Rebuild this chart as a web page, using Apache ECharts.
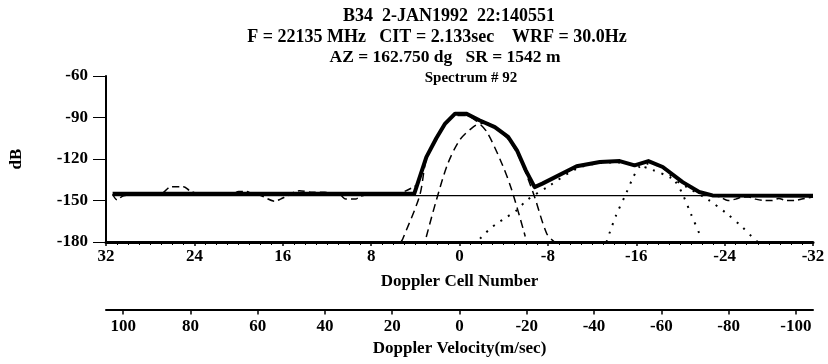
<!DOCTYPE html>
<html>
<head>
<meta charset="utf-8">
<script src="https://cdn.jsdelivr.net/npm/echarts@6/dist/echarts.min.js"></script>
<style>html,body{margin:0;padding:0;background:#fff;}#c{width:828px;height:364px;}</style>
</head>
<body>
<div id="c"></div>
<script>
// ---- tick labels ----
var dbTicks = [-60, -90, -120, -150, -180];
var cellTicks = [32, 24, 16, 8, 0, -8, -16, -24, -32];
var velTicks = [100, 80, 60, 40, 20, 0, -20, -40, -60, -80, -100];

// ---- title lines ----
var titleLines = [
  'B34  2-JAN1992  22:140551',
  'F = 22135 MHz   CIT = 2.133sec    WRF = 30.0Hz',
  'AZ = 162.750 dg   SR = 1542 m',
  'Spectrum # 92'
];

// ---- total spectrum (thick solid) ----
var totalCells = [31.4, 4.1, 3.0, 2.1, 1.3, 0.4, -0.6, -1.8, -3.2, -4.4, -5.2, -6.0, -6.8, -7.5, -10.6, -12.7, -14.5, -15.85, -17.1, -18.4, -20.2, -21.7, -22.9, -32];
var totalDb    = [-145.2, -145.2, -118.6, -105, -94.4, -87.2, -87.2, -92, -96.9, -104, -113.7, -128.2, -140.3, -137.8, -125.2, -122.2, -121.5, -124.6, -121.5, -125.8, -136.7, -143.9, -146.3, -146.5];

// ---- noise level (thin solid) ----
var noiseCells = [31.4, -32];
var noiseDb    = [-146.5, -146.5];

// ---- raw spectrum, noise parts (thin dashed) ----
var rawLeftCells = [31.4, 31.0, 30.4, 27.0, 26.1, 25.0, 24.4, 23.5, 20.5, 20.0, 19.3, 18.8, 18.1, 16.7, 16.2, 15.7, 14.5, 13.3, 12.2, 11.5, 10.8, 10.3, 9.4, 9.0, 8.0, 5.4, 3.9];
var rawLeftDb    = [-145.5, -149.5, -146.5, -145, -140, -140, -143, -145.5, -145, -143.5, -143.5, -145, -146, -150.5, -149, -147, -143, -144, -144, -145.5, -146, -149, -149, -147, -145.5, -144.5, -139];
var rawRightCells = [-22.9, -23.6, -24.3, -25.0, -25.6, -26.2, -26.8, -27.6, -28.3, -28.9, -29.6, -30.3, -31.1, -32];
var rawRightDb    = [-146.3, -147.5, -150, -149, -147.5, -147.5, -149, -150, -150, -148.5, -150, -150, -148.7, -147.5];

// ---- fitted component A (dashed) ----
var compACells = [5.3, 5.13, 3.6, 3.0, 2.1, 1.3, 0.4, -0.6, -1.6, -2.48, -3.84, -4.74, -5.8, -5.95];
var compADb    = [-180, -177.6, -146.3, -120, -106, -95.5, -88.5, -88.5, -93, -100.5, -123.4, -142.7, -171.6, -176];

// ---- fitted component B (dashed) ----
var compBCells = [3.01, 2.1, 1.06, 0, -1.06, -1.8, -2.6, -3.4, -4.4, -5.2, -6.0, -6.8, -7.9, -8.6];
var compBDb    = [-176.4, -149.9, -123.4, -106.5, -98, -94.4, -94, -98.5, -105.5, -115.5, -130, -147.5, -174, -180];

// ---- fitted component C (dotted) ----
var compCCells = [-1.86, -2.76, -3.36, -4.27, -5.18, -6.08, -8.1, -10.6, -12.7, -14.5, -16, -17.5, -19, -20.5, -22.6, -24.2, -25.6, -26.5, -27];
var compCDb    = [-177.6, -170.4, -166.8, -162, -157.1, -149.9, -139.5, -127, -123, -122.5, -124, -128, -133, -140, -149.9, -159.5, -169.2, -176.4, -180];

// ---- fitted component D (dotted) ----
var compDCells = [-13.3, -13.56, -14.17, -15.07, -15.67, -16.27, -17.02, -17.92, -18.68, -19.58, -20.18, -20.94, -21.85];
var compDDb    = [-180, -174, -160.8, -145.1, -134.2, -125.8, -123.4, -124.6, -128.2, -136.7, -145.1, -159.5, -176.4];

function pairs(xs, ys) { return xs.map(function (x, i) { return [x, ys[i]]; }); }

var rawData = pairs(rawLeftCells, rawLeftDb).concat([[0, '-']]).concat(pairs(rawRightCells, rawRightDb));

var FONT = 'Liberation Serif';
var txt = { fontFamily: FONT, fontWeight: 'bold', fontSize: 17, color: '#000' };

var titleCenters = [449, 437, 445, 471];
var titleTops = [7, 28, 48, 71];
var titleSizes = [18, 18, 17.5, 15];

var chart = echarts.init(document.getElementById('c'), null, { renderer: 'canvas' });
chart.setOption({
  animation: false,
  backgroundColor: '#fff',
  title: titleLines.map(function (t, i) {
    return {
      text: t, left: titleCenters[i], top: titleTops[i], textAlign: 'center', padding: 0,
      textStyle: { fontFamily: FONT, fontWeight: 'bold', fontSize: titleSizes[i], color: '#000' }
    };
  }),
  grid: { left: 105, right: 15, top: 76, height: 166 },
  xAxis: [{
    type: 'value', min: cellTicks[cellTicks.length - 1], max: cellTicks[0], interval: 8, inverse: true,
    axisLine: { onZero: false, lineStyle: { color: '#000', width: 3 } },
    axisTick: { length: 4, lineStyle: { color: '#000', width: 1.5 } },
    minorTick: { show: true, splitNumber: 8, length: 3, lineStyle: { color: '#000', width: 1 } },
    splitLine: { show: false },
    axisLabel: Object.assign({ margin: 6 }, txt),
    name: 'Doppler Cell Number', nameLocation: 'middle', nameGap: 31,
    nameTextStyle: Object.assign({}, txt)
  }, {
    type: 'value', min: -105.1, max: 105.1, inverse: true, position: 'bottom', offset: 67.6,
    axisLine: { onZero: false, lineStyle: { color: '#000', width: 2 } },
    axisTick: { customValues: velTicks, length: 5, lineStyle: { color: '#000', width: 1.5 } },
    splitLine: { show: false },
    axisLabel: Object.assign({ margin: 9, customValues: velTicks }, txt),
    name: 'Doppler Velocity(m/sec)', nameLocation: 'middle', nameGap: 31,
    nameTextStyle: Object.assign({}, txt)
  }],
  yAxis: {
    type: 'value', min: dbTicks[dbTicks.length - 1], max: dbTicks[0], interval: 30,
    axisLine: { show: true, onZero: false, lineStyle: { color: '#000', width: 2 } },
    axisTick: { show: true, length: 13, lineStyle: { color: '#000', width: 1 } },
    splitLine: { show: false },
    axisLabel: Object.assign({ margin: 18 }, txt),
    name: 'dB', nameLocation: 'middle', nameRotate: 90, nameGap: 81,
    nameTextStyle: Object.assign({}, txt)
  },
  series: [
    { type: 'line', name: 'noise', data: pairs(noiseCells, noiseDb), symbol: 'none', z: 2,
      lineStyle: { color: '#000', width: 1.2 } },
    { type: 'line', name: 'raw', data: rawData, symbol: 'none', connectNulls: false, z: 3, smooth: 0.3,
      lineStyle: { color: '#000', width: 1.5, type: [7, 4] } },
    { type: 'line', name: 'A', data: pairs(compACells, compADb), symbol: 'none', z: 3, smooth: 0.3,
      lineStyle: { color: '#000', width: 1.5, type: [8, 5] } },
    { type: 'line', name: 'B', data: pairs(compBCells, compBDb), symbol: 'none', z: 3, smooth: 0.3,
      lineStyle: { color: '#000', width: 1.5, type: [8, 5] } },
    { type: 'line', name: 'C', data: pairs(compCCells, compCDb), symbol: 'none', z: 3, smooth: 0.3,
      lineStyle: { color: '#000', width: 2, type: [2, 7] } },
    { type: 'line', name: 'D', data: pairs(compDCells, compDDb), symbol: 'none', z: 3, smooth: 0.3,
      lineStyle: { color: '#000', width: 2, type: [2, 7] } },
    { type: 'line', name: 'total', data: pairs(totalCells, totalDb), symbol: 'none', z: 5,
      lineStyle: { color: '#000', width: 4, join: 'round' } }
  ]
});
</script>
</body>
</html>
